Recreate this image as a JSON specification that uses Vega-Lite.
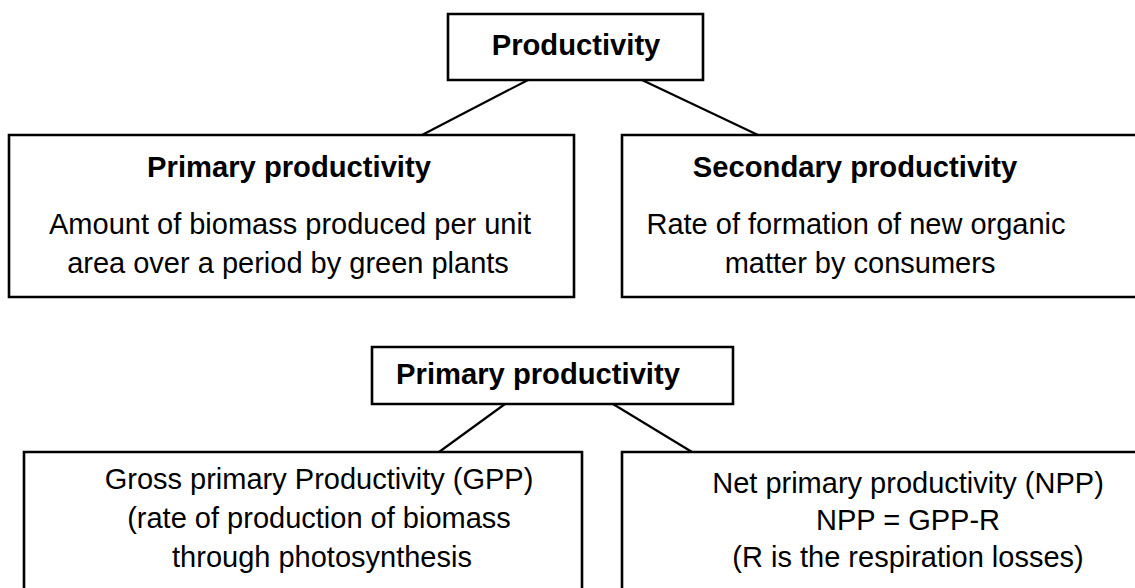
{
  "$schema": "https://vega.github.io/schema/vega-lite/v6.json",
  "width": 1135,
  "height": 588,
  "autosize": {"type": "none"},
  "padding": 0,
  "background": "white",
  "config": {"view": {"stroke": null}},
  "datasets": {
    "boxes": [
      {"box": "Productivity", "x0": 448, "x1": 703, "y0": 14, "y1": 80},
      {"box": "Primary productivity", "x0": 9, "x1": 574, "y0": 135, "y1": 297},
      {"box": "Secondary productivity", "x0": 622, "x1": 1145, "y0": 135, "y1": 297},
      {"box": "Primary productivity 2", "x0": 372, "x1": 733, "y0": 347, "y1": 404},
      {"box": "GPP", "x0": 24, "x1": 582, "y0": 452, "y1": 600},
      {"box": "NPP", "x0": 622, "x1": 1145, "y0": 452, "y1": 600}
    ],
    "links": [
      {"from": "Productivity", "to": "Primary productivity", "x0": 528, "y0": 80, "x1": 422, "y1": 135},
      {"from": "Productivity", "to": "Secondary productivity", "x0": 642, "y0": 80, "x1": 758, "y1": 135},
      {"from": "Primary productivity 2", "to": "GPP", "x0": 505, "y0": 404, "x1": 439, "y1": 452},
      {"from": "Primary productivity 2", "to": "NPP", "x0": 613, "y0": 404, "x1": 692, "y1": 452}
    ],
    "labels": [
      {"role": "title", "label": "Productivity", "x": 576, "y": 55},
      {"role": "title", "label": "Primary productivity", "x": 289, "y": 177},
      {"role": "title", "label": "Secondary productivity", "x": 855, "y": 177},
      {"role": "title", "label": "Primary productivity", "x": 538, "y": 384},
      {"role": "body", "label": "Amount of biomass produced per unit", "x": 290, "y": 234},
      {"role": "body", "label": "area over a period by green plants", "x": 288, "y": 273},
      {"role": "body", "label": "Rate of formation of new organic", "x": 856, "y": 234},
      {"role": "body", "label": "matter by consumers", "x": 860, "y": 273},
      {"role": "body", "label": "Gross primary Productivity (GPP)", "x": 319, "y": 489},
      {"role": "body", "label": "(rate of production of biomass", "x": 319, "y": 528},
      {"role": "body", "label": "through photosynthesis", "x": 322, "y": 567},
      {"role": "body", "label": "Net primary productivity (NPP)", "x": 908, "y": 493},
      {"role": "body", "label": "NPP = GPP-R", "x": 908, "y": 530},
      {"role": "body", "label": "(R is the respiration losses)", "x": 908, "y": 567}
    ]
  },
  "layer": [
    {
      "data": {"name": "boxes"},
      "mark": {"type": "rect", "fill": "white", "stroke": "black", "strokeWidth": 2.6, "clip": true},
      "encoding": {
        "x": {"field": "x0", "type": "quantitative", "scale": {"domain": [0, 1135], "nice": false, "zero": false}, "axis": null},
        "x2": {"field": "x1"},
        "y": {"field": "y0", "type": "quantitative", "scale": {"domain": [0, 588], "nice": false, "zero": false, "reverse": true}, "axis": null},
        "y2": {"field": "y1"}
      }
    },
    {
      "data": {"name": "links"},
      "mark": {"type": "rule", "color": "black", "strokeWidth": 2.2},
      "encoding": {
        "x": {"field": "x0", "type": "quantitative", "scale": {"domain": [0, 1135], "nice": false, "zero": false}, "axis": null},
        "x2": {"field": "x1"},
        "y": {"field": "y0", "type": "quantitative", "scale": {"domain": [0, 588], "nice": false, "zero": false, "reverse": true}, "axis": null},
        "y2": {"field": "y1"}
      }
    },
    {
      "data": {"name": "labels"},
      "transform": [{"filter": "datum.role == 'title'"}],
      "mark": {"type": "text", "font": "Liberation Sans", "fontSize": 29.2, "fontWeight": "bold", "align": "center", "baseline": "alphabetic", "color": "black"},
      "encoding": {
        "x": {"field": "x", "type": "quantitative", "scale": {"domain": [0, 1135], "nice": false, "zero": false}, "axis": null},
        "y": {"field": "y", "type": "quantitative", "scale": {"domain": [0, 588], "nice": false, "zero": false, "reverse": true}, "axis": null},
        "text": {"field": "label"}
      }
    },
    {
      "data": {"name": "labels"},
      "transform": [{"filter": "datum.role == 'body'"}],
      "mark": {"type": "text", "font": "Liberation Sans", "fontSize": 29, "align": "center", "baseline": "alphabetic", "color": "black"},
      "encoding": {
        "x": {"field": "x", "type": "quantitative", "scale": {"domain": [0, 1135], "nice": false, "zero": false}, "axis": null},
        "y": {"field": "y", "type": "quantitative", "scale": {"domain": [0, 588], "nice": false, "zero": false, "reverse": true}, "axis": null},
        "text": {"field": "label"}
      }
    }
  ]
}
